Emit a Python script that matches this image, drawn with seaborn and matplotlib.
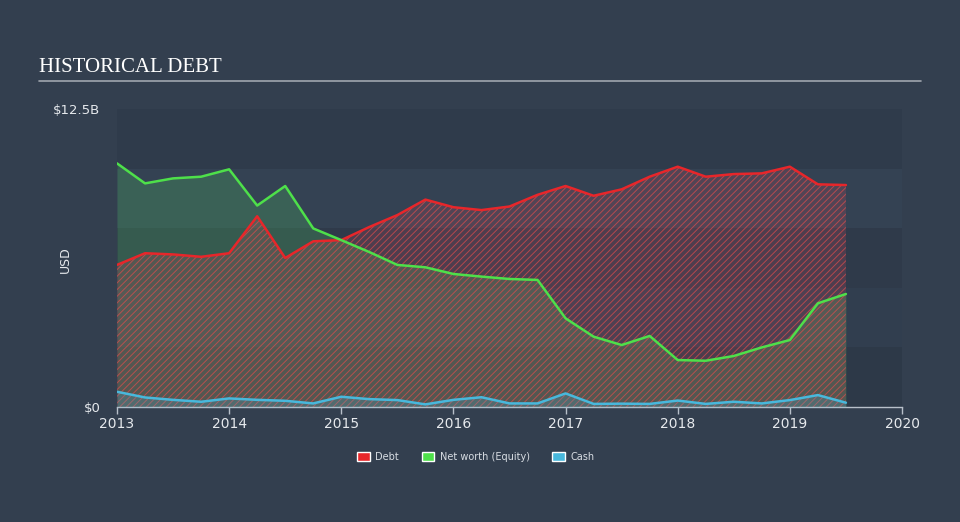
import matplotlib
matplotlib.use("Agg")
import matplotlib.pyplot as plt
import seaborn as sns
import pandas as pd
import numpy as np
from matplotlib.patches import Patch

years = [2013.0, 2013.25, 2013.5, 2013.75, 2014.0, 2014.25, 2014.5, 2014.75,
         2015.0, 2015.25, 2015.5, 2015.75, 2016.0, 2016.25, 2016.5, 2016.75,
         2017.0, 2017.25, 2017.5, 2017.75, 2018.0, 2018.25, 2018.5, 2018.75,
         2019.0, 2019.25, 2019.5]
debt = [5.96, 6.45, 6.40, 6.30, 6.45, 8.00, 6.25, 6.95,
        7.00, 7.55, 8.05, 8.70, 8.38, 8.26, 8.41, 8.90,
        9.27, 8.86, 9.13, 9.66, 10.08, 9.66, 9.77, 9.80,
        10.08, 9.34, 9.31]
equity = [10.22, 9.38, 9.59, 9.66, 9.97, 8.45, 9.27, 7.49,
          7.00, 6.50, 5.96, 5.86, 5.58, 5.47, 5.37, 5.33,
          3.72, 2.95, 2.60, 2.98, 1.97, 1.94, 2.14, 2.50,
          2.81, 4.35, 4.74]
cash = [0.64, 0.40, 0.30, 0.22, 0.36, 0.30, 0.26, 0.15,
        0.43, 0.33, 0.29, 0.11, 0.30, 0.41, 0.15, 0.15,
        0.57, 0.13, 0.14, 0.13, 0.27, 0.13, 0.22, 0.15,
        0.29, 0.50, 0.18]
series_names = ["Debt", "Net worth (Equity)", "Cash"]
x_ticks = [2013, 2014, 2015, 2016, 2017, 2018, 2019, 2020]
y_tick_vals = [0, 12.5]
y_tick_labels = ["$0", "$12.5B"]

sns.set_theme(style="dark")
plt.rcParams["font.family"] = ["DejaVu Sans"]
plt.rcParams["hatch.linewidth"] = 0.7

BG = "#333f4f"
RED = "#e8262a"
GREEN = "#4ee04a"
BLUE = "#48b8dc"
TXT = "#e6e9ed"

fig = plt.figure(figsize=(9.6, 5.22), dpi=100, facecolor=BG)
ax = fig.add_axes([117/960, 1-407/522, (902-117)/960, (407-109)/522])
ax.set_facecolor("#2f3b4b")

band_cols = ["#2d3948", "#313e4f", "#2f3a4a", "#344253", "#2f3b4b"]
for i, c in enumerate(band_cols):
    ax.axhspan(i*2.5, (i+1)*2.5, color=c, zorder=0, lw=0)

df = pd.DataFrame({"year": years * 3,
                   "value": debt + equity + cash,
                   "series": [series_names[0]]*len(years) + [series_names[1]]*len(years) + [series_names[2]]*len(years)})

# fills
ax.fill_between(years, 0, equity, color="#4ec060", alpha=0.25, lw=0, zorder=1)
ax.fill_between(years, 0, debt, facecolor=(0.8, 0.3, 0.38, 0.20), edgecolor=(0.88, 0.3, 0.3, 0.7),
                hatch="/////", lw=0, zorder=2)
ax.fill_between(years, 0, cash, facecolor=(0.3, 0.7, 0.85, 0.22), lw=0, zorder=3)

sns.lineplot(data=df, x="year", y="value", hue="series",
             palette={series_names[0]: RED, series_names[1]: GREEN, series_names[2]: BLUE},
             linewidth=1.8, ax=ax, legend=False, zorder=4)

ax.set_xlim(2013, 2020)
ax.set_ylim(0, 12.5)
ax.set_xticks(x_ticks)
ax.set_xticklabels([str(t) for t in x_ticks], color=TXT, fontsize=10)
ax.set_yticks(y_tick_vals)
ax.set_yticklabels(y_tick_labels, color=TXT, fontsize=9.5)
ax.yaxis.set_tick_params(length=0, pad=12)
ax.xaxis.set_tick_params(length=5, width=1, color="#b8c0ca", bottom=True, pad=2)
ax.set_xlabel("")
ax.set_ylabel("")
fig.text(65/960, 1-260/522, "USD", rotation=90, color=TXT, fontsize=9, ha="center", va="center")
for s in ["top", "right", "left"]:
    ax.spines[s].set_visible(False)
ax.spines["bottom"].set_color("#b8c0ca")
ax.spines["bottom"].set_linewidth(1)
ax.grid(False)

fig.text(39/960, 1-67/522, "HISTORICAL DEBT", family=["Liberation Serif", "DejaVu Serif"],
         fontsize=15, color="white", va="center", ha="left")
fig.add_artist(plt.Line2D([39/960, 921/960], [1-81/522, 1-81/522], color="#a0a6ae", lw=1.2))

handles = [Patch(facecolor=RED, label=series_names[0]),
           Patch(facecolor=GREEN, label=series_names[1]),
           Patch(facecolor=BLUE, label=series_names[2])]
leg = fig.legend(handles=handles, loc="center", bbox_to_anchor=(476/960, 1-457/522), ncol=3,
                 frameon=False, fontsize=7, handlelength=1.3, handleheight=1.1,
                 columnspacing=2.3, handletextpad=0.6)
for t in leg.get_texts():
    t.set_color("#d8dde3")

fig.savefig("out.png", dpi=100, facecolor=BG)
